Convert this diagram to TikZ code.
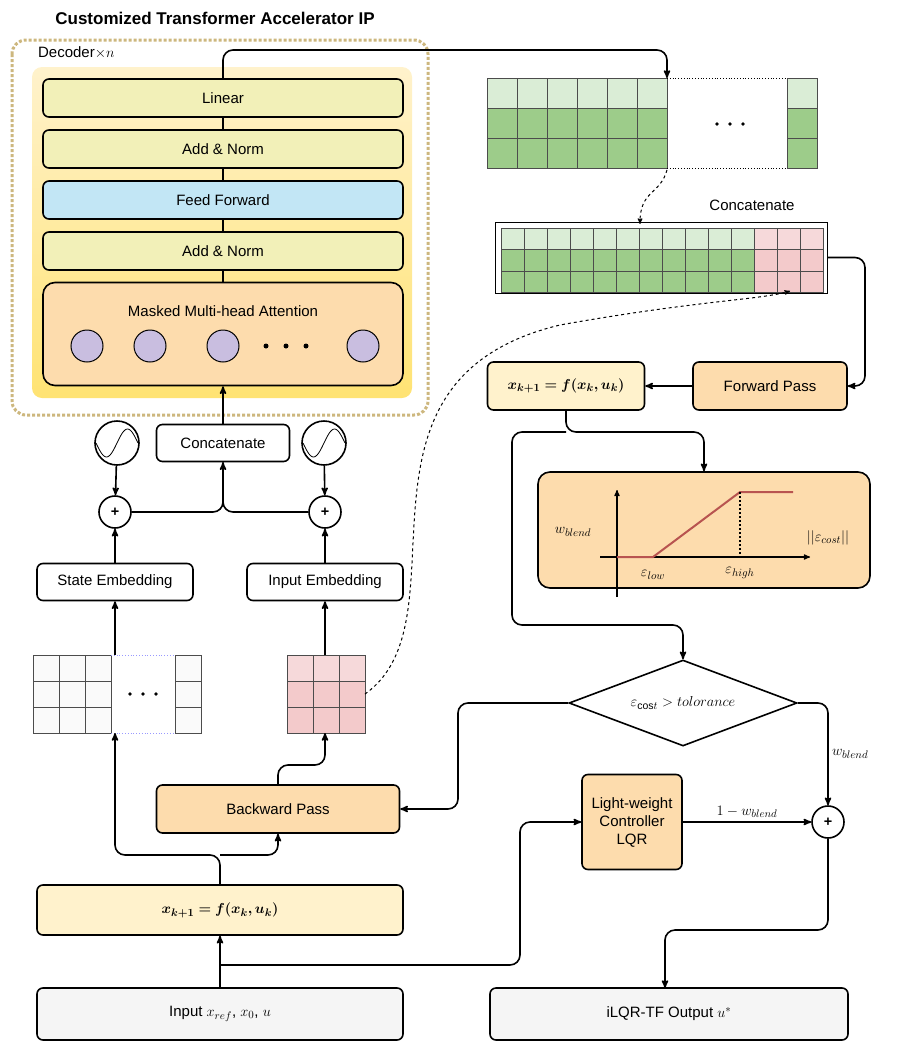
\documentclass[tikz,border=0pt]{standalone}
\usepackage{amsmath,amssymb,bm}
\usepackage{fontspec}
\setmainfont{Liberation Sans}
\usepackage{xcolor}
\usetikzlibrary{positioning}
\usetikzlibrary{arrows}
\usetikzlibrary{calc}
\usetikzlibrary{shapes.geometric}

\definecolor{lineyel}{HTML}{F2F0B8}
\definecolor{feedblue}{HTML}{C2E6F5}
\definecolor{peach}{HTML}{FDDCAD}
\definecolor{cream}{HTML}{FFF2CC}
\definecolor{headpurple}{HTML}{C9BEE0}
\definecolor{lgreen}{HTML}{DAEDD6}
\definecolor{dgreen}{HTML}{9DCC8A}
\definecolor{lpink}{HTML}{F6D9DA}
\definecolor{dpink}{HTML}{F3CACB}
\definecolor{lgray}{HTML}{F5F5F5}
\definecolor{tan}{HTML}{CDB77E}
\definecolor{redline}{HTML}{B85450}

\begin{document}
\begin{tikzpicture}[x=1pt,y=-1pt,>=stealth',thick,line width=1.6pt,
    every node/.style={font=\fontsize{15}{18}\selectfont},
    block/.style={draw,rounded corners=6pt,align=center,inner sep=0pt},
    layer/.style={block,fill=lineyel,minimum width=360pt,minimum height=38pt},
    sum node/.style={circle,draw,minimum size=32pt,inner sep=0pt,font=\bfseries\Large},
    wave node/.style={circle,draw,minimum size=44pt,inner sep=0pt},
    cell/.style={draw=black!70,line width=0.8pt},
    link/.style={rounded corners=10pt}]
\useasboundingbox (0,0) rectangle (900,1052);

% transformer IP
\node[font=\fontsize{17}{20}\selectfont\bfseries] (title) at (215,18) {Customized Transformer Accelerator IP};
\draw[tan,line width=3pt,dotted,rounded corners=14pt] (12,40) rectangle (428,415);
\node[anchor=west] (dec) at (34,53) {Decoder$\times n$};
\shade[top color=cream,bottom color=yellow!60!orange!55,rounded corners=10pt] (32,67) rectangle (412,398);

\node[layer] (lin) at (223,98) {Linear};
\node[layer] (an1) at (223,149) {Add \& Norm};
\node[layer,fill=feedblue] (ff) at (223,200) {Feed Forward};
\node[layer] (an2) at (223,251) {Add \& Norm};
\node[block,fill=peach,minimum width=360pt,minimum height=103pt,rounded corners=12pt] (mha) at (223,334) {};
\node (mhat) at (223,311) {Masked Multi-head Attention};
\foreach \x/\n in {87/1,150/2,223/3,363/4}
  \node[circle,draw,fill=headpurple,minimum size=32pt,line width=1pt] (h\n) at (\x,346) {};
\foreach \x in {266,286,306}
  \fill (\x,346) circle (2.5pt);

\path (lin) edge (an1) (an1) edge (ff) (ff) edge (an2) (an2) edge (mha);

% output matrix
\foreach \c in {0,...,5} {
  \draw[cell,fill=lgreen] (487+30*\c,78) rectangle +(30,30);
  \draw[cell,fill=dgreen] (487+30*\c,108) rectangle +(30,30);
  \draw[cell,fill=dgreen] (487+30*\c,138) rectangle +(30,30);
}
\draw[cell,fill=lgreen] (787,78) rectangle +(30,30);
\draw[cell,fill=dgreen] (787,108) rectangle +(30,30);
\draw[cell,fill=dgreen] (787,138) rectangle +(30,30);
\draw[dotted,line width=0.8pt] (667,78) -- (787,78) (667,168) -- (787,168);
\foreach \x in {717,730,743} \fill (\x,124) circle (1.8pt);
\coordinate (outm) at (667,78);
\coordinate (outb) at (667,170);

% concatenated matrix
\node[draw,line width=1pt,minimum width=332pt,minimum height=71pt,inner sep=0pt] (cat) at (661,257.5) {};
\foreach \c in {0,...,13} {
  \ifnum\c<11 \def\la{lgreen}\def\da{dgreen}\else\def\la{lpink}\def\da{dpink}\fi
  \draw[cell,fill=\la] (501+23*\c,228) rectangle +(23,21.5);
  \draw[cell,fill=\da] (501+23*\c,249.5) rectangle +(23,21.5);
  \draw[cell,fill=\da] (501+23*\c,271) rectangle +(23,21.5);
}
\node (catl) at (752,205) {Concatenate};
\coordinate (catin) at (640,224);
\coordinate (catpink) at (790,291);

\draw[->,link] (lin.north) -- (223,50) -| (outm);
\draw[->,dashed,line width=1pt] (outb) .. controls (660,195) and (640,190) .. (catin);

% forward path
\node[block,fill=peach,minimum width=154pt,minimum height=48pt] (fwd) at (770,386) {Forward Pass};
\node[block,fill=cream,minimum width=157pt,minimum height=48pt] (xk1) at (566,386) {$\bm{x_{k+1}=f(x_k,u_k)}$};
\draw[->,link] (cat.east) -- (865,257.5) |- (fwd.east);
\draw[->] (fwd) -- (xk1);

% blend plot
\node[block,fill=peach,minimum width=332pt,minimum height=116pt,rounded corners=12pt] (plot) at (704,530) {};
\draw[->,line width=1.2pt] (617,597) -- (617,490);
\draw[->,line width=1.2pt] (600,557) -- (810,557);
\draw[redline,line width=2pt] (617,557) -- (653,557) -- (740,492) -- (793,492);
\draw[dotted,line width=2pt] (740,492) -- (740,557);
\node (wb) at (573,532) {$w_{blend}$};
\node (elow) at (653,575) {$\varepsilon_{low}$};
\node (ehigh) at (740,573) {$\varepsilon_{high}$};
\node (ecost) at (828,538) {$||\varepsilon_{cost}||$};

% decision
\node[diamond,draw,aspect=2.65,minimum width=228pt,minimum height=86pt,inner sep=0pt] (dec2) at (683,703) {$\varepsilon_{\mathrm{cos}t} > tolorance$};
\draw[->,link] (xk1.south) -- (566,432) -| (plot.north);
\draw[->,link] (566,432) -- (512,432) -- (512,625) -| (dec2.north);

\node[block,fill=peach,minimum width=100pt,minimum height=95pt] (lqr) at (632,822) {Light-weight\\Controller\\LQR};
\node[sum node] (blend) at (828,822) {+};
\draw[->,link] (dec2.east) -| node[pos=0.75,right] {$w_{blend}$} (blend.north);
\draw[->] (lqr) -- node[above] {$1-w_{blend}$} (blend);

% backward path
\node[block,fill=peach,minimum width=243pt,minimum height=48pt] (bwd) at (278,809) {Backward Pass};
\draw[->,link] (dec2.west) -- (458,703) |- (bwd.east);

\node[block,fill=lgray,minimum width=366pt,minimum height=52pt] (inp) at (220,1014) {Input $x_{ref}$, $x_0$, $u$};
\node[block,fill=lgray,minimum width=358pt,minimum height=52pt] (outp) at (669,1014) {iLQR-TF Output $u^*$};
\node[block,fill=cream,minimum width=366pt,minimum height=50pt] (xk0) at (220,910) {$\bm{x_{k+1}=f(x_k,u_k)}$};
\draw[->,link] (blend.south) -- (828,930) -| (665,988);
\draw[->] (inp) -- (xk0);
\draw[->,link] (220,965) -| (520,822) -- (lqr.west);

% input matrices
\foreach \r in {0,1,2} \foreach \c in {0,1,2} {
  \draw[cell,fill=gray!4] (33+26*\c,655+26*\r) rectangle +(26,26);
  \ifnum\r=0 \def\pk{lpink}\else\def\pk{dpink}\fi
  \draw[cell,fill=\pk] (287+26*\c,655+26*\r) rectangle +(26,26);
}
\foreach \r in {0,1,2} \draw[cell,fill=gray!4] (175,655+26*\r) rectangle +(26,26);
\draw[dotted,blue!40,line width=0.8pt] (111,655) -- (175,655) (111,733) -- (175,733);
\foreach \x in {130,143,156} \fill (\x,694) circle (1.8pt);
\coordinate (smat) at (115,655);
\coordinate (smatb) at (115,733);
\coordinate (imat) at (325,655);
\coordinate (imatb) at (325,733);
\coordinate (imatr) at (365,694);

\draw[->,link] (xk0.north) -- (220,855) -| (smatb);
\draw[->,link] (220,855) -| (bwd.south);
\draw[->,link] (bwd.north) -- (278,765) -| (imatb);

% embeddings
\node[block,minimum width=156pt,minimum height=37pt] (semb) at (115,582) {State Embedding};
\node[block,minimum width=156pt,minimum height=37pt] (iemb) at (325,582) {Input Embedding};
\node[sum node] (s1) at (115,512) {+};
\node[sum node] (s2) at (325,512) {+};
\node[wave node] (w1) at (117,443) {};
\node[wave node] (w2) at (324,443) {};
\foreach \w in {w1,w2}
  \draw[line width=0.8pt,shift={(\w.center)}] plot[domain=-1:1,samples=30] ({\x*21},{-14*sin(\x*180)});
\node[block,minimum width=133pt,minimum height=37pt] (cnc) at (223,443) {Concatenate};

\draw[->] (smat) -- (semb);
\draw[->] (imat) -- (iemb);
\draw[->] (semb) -- (s1);
\draw[->] (iemb) -- (s2);
\draw[->] (w1) -- (s1);
\draw[->] (w2) -- (s2);
\draw[->,link] (s1.east) -| (cnc.south);
\draw[link] (s2.west) -| (cnc.south);
\draw[->] (cnc) -- (mha);

\draw[->,dashed,line width=1pt] (imatr) .. controls (470,620) and (330,380) .. (560,325) .. controls (700,300) and (760,300) .. (catpink);
\end{tikzpicture}
\end{document}
